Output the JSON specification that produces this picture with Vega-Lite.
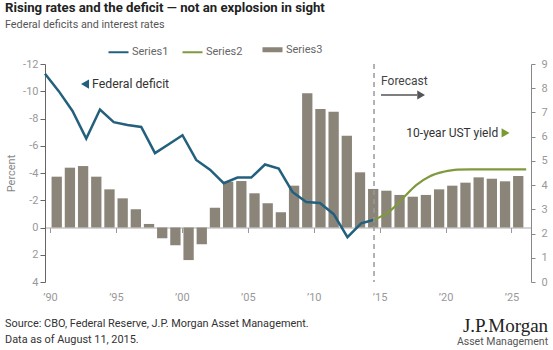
{
  "$schema": "https://vega.github.io/schema/vega-lite/v6.json",
  "width": 486,
  "height": 218,
  "autosize": {"type": "none"},
  "padding": {"left": 45, "top": 64, "right": 22, "bottom": 68},
  "background": "white",
  "config": {
    "view": {"stroke": null},
    "font": "Roboto, sans-serif"
  },
  "title": {
    "text": "Rising rates and the deficit — not an explosion in sight",
    "subtitle": "Federal deficits and interest rates",
    "anchor": "start",
    "frame": "group",
    "dx": -40,
    "offset": 13,
    "fontSize": 13.2,
    "fontWeight": "bold",
    "color": "#222222",
    "subtitleFontSize": 10.8,
    "subtitleColor": "#555555",
    "subtitlePadding": 4
  },
  "datasets": {
    "deficit": [
      {"year": 1990, "value": -3.73}, {"year": 1991, "value": -4.39}, {"year": 1992, "value": -4.51},
      {"year": 1993, "value": -3.73}, {"year": 1994, "value": -2.8}, {"year": 1995, "value": -2.14},
      {"year": 1996, "value": -1.34}, {"year": 1997, "value": -0.26}, {"year": 1998, "value": 0.79},
      {"year": 1999, "value": 1.31}, {"year": 2000, "value": 2.39}, {"year": 2001, "value": 1.23},
      {"year": 2002, "value": -1.45}, {"year": 2003, "value": -3.36}, {"year": 2004, "value": -3.41},
      {"year": 2005, "value": -2.51}, {"year": 2006, "value": -1.78}, {"year": 2007, "value": -1.12},
      {"year": 2008, "value": -3.07}, {"year": 2009, "value": -9.85}, {"year": 2010, "value": -8.7},
      {"year": 2011, "value": -8.5}, {"year": 2012, "value": -6.74}, {"year": 2013, "value": -4.05},
      {"year": 2014, "value": -2.83}, {"year": 2015, "value": -2.7}, {"year": 2016, "value": -2.39},
      {"year": 2017, "value": -2.26}, {"year": 2018, "value": -2.39}, {"year": 2019, "value": -2.8},
      {"year": 2020, "value": -3.07}, {"year": 2021, "value": -3.29}, {"year": 2022, "value": -3.68},
      {"year": 2023, "value": -3.58}, {"year": 2024, "value": -3.39}, {"year": 2025, "value": -3.78}
    ],
    "yield": [
      {"year": 1990, "value": 8.6, "series": "Series1"}, {"year": 1991, "value": 7.88, "series": "Series1"},
      {"year": 1992, "value": 7.06, "series": "Series1"}, {"year": 1993, "value": 5.92, "series": "Series1"},
      {"year": 1994, "value": 7.12, "series": "Series1"}, {"year": 1995, "value": 6.6, "series": "Series1"},
      {"year": 1996, "value": 6.48, "series": "Series1"}, {"year": 1997, "value": 6.4, "series": "Series1"},
      {"year": 1998, "value": 5.32, "series": "Series1"}, {"year": 1999, "value": 5.69, "series": "Series1"},
      {"year": 2000, "value": 6.06, "series": "Series1"}, {"year": 2001, "value": 5.04, "series": "Series1"},
      {"year": 2002, "value": 4.64, "series": "Series1"}, {"year": 2003, "value": 4.08, "series": "Series1"},
      {"year": 2004, "value": 4.31, "series": "Series1"}, {"year": 2005, "value": 4.31, "series": "Series1"},
      {"year": 2006, "value": 4.85, "series": "Series1"}, {"year": 2007, "value": 4.68, "series": "Series1"},
      {"year": 2008, "value": 3.72, "series": "Series1"}, {"year": 2009, "value": 3.3, "series": "Series1"},
      {"year": 2010, "value": 3.26, "series": "Series1"}, {"year": 2011, "value": 2.8, "series": "Series1"},
      {"year": 2012, "value": 1.85, "series": "Series1"}, {"year": 2013, "value": 2.42, "series": "Series1"},
      {"year": 2014, "value": 2.58, "series": "Series1"},
      {"year": 2014, "value": 2.58, "series": "Series2"}, {"year": 2015, "value": 2.89, "series": "Series2"},
      {"year": 2016, "value": 3.44, "series": "Series2"}, {"year": 2017, "value": 4.0, "series": "Series2"},
      {"year": 2018, "value": 4.37, "series": "Series2"}, {"year": 2019, "value": 4.55, "series": "Series2"},
      {"year": 2020, "value": 4.64, "series": "Series2"}, {"year": 2021, "value": 4.65, "series": "Series2"},
      {"year": 2022, "value": 4.65, "series": "Series2"}, {"year": 2023, "value": 4.65, "series": "Series2"},
      {"year": 2024, "value": 4.65, "series": "Series2"}, {"year": 2025, "value": 4.65, "series": "Series2"}
    ],
    "one": [{}]
  },
  "layer": [
    {
      "data": {"name": "deficit"},
      "mark": {"type": "bar", "width": 10.3, "xOffset": 6.73, "color": "#8b8478"},
      "encoding": {
        "x": {
          "field": "year", "type": "quantitative", "title": null,
          "scale": {"domain": [1990, 2026.1], "nice": false, "zero": false},
          "axis": {
            "values": [1990, 1995, 2000, 2005, 2010, 2015, 2020, 2025],
            "labelExpr": "'’' + substring(toString(datum.value), 2)",
            "offset": -54.5, "grid": false, "labelOverlap": false,
            "domainColor": "#aaaaaa", "tickColor": "#999999", "tickSize": 5,
            "labelPadding": 59, "labelColor": "#999999", "labelFontSize": 11,
            "labelFlush": false
          }
        },
        "y": {
          "field": "value", "type": "quantitative", "title": "Percent",
          "scale": {"domain": [-12, 4], "reverse": true, "nice": false, "zero": false},
          "axis": {
            "values": [-12, -10, -8, -6, -4, -2, 0, 2, 4],
            "labelExpr": "toString(datum.value)", "labelOverlap": false,
            "grid": false, "domainColor": "#666666", "tickColor": "#666666", "tickSize": 5,
            "labelPadding": 2, "labelColor": "#999999", "labelFontSize": 11,
            "titleColor": "#888888", "titleFontSize": 11, "titleFontWeight": "normal", "titlePadding": 6
          }
        },
        "color": {"datum": "Series3", "type": "nominal"}
      }
    },
    {
      "data": {"name": "yield"},
      "encoding": {
        "x": {
          "field": "year", "type": "quantitative",
          "scale": {"domain": [1990, 2025.35], "nice": false, "zero": false},
          "axis": null
        },
        "y": {
          "field": "value", "type": "quantitative", "title": null,
          "scale": {"domain": [0, 9], "nice": false, "zero": false},
          "axis": {
            "orient": "right", "values": [0, 1, 2, 3, 4, 5, 6, 7, 8, 9], "grid": false, "labelOverlap": false,
            "domainColor": "#888888", "tickColor": "#888888", "tickSize": 4,
            "labelPadding": 6, "labelColor": "#999999", "labelFontSize": 11
          }
        },
        "color": {
          "field": "series", "type": "nominal",
          "scale": {"domain": ["Series1", "Series2", "Series3"], "range": ["#23607d", "#7f9a3c", "#8b8478"]},
          "legend": {
            "orient": "none", "legendX": 68, "legendY": -20, "direction": "horizontal", "title": null,
            "symbolType": "stroke", "symbolSize": 400, "symbolStrokeWidth": 2,
            "labelFontSize": 11, "labelColor": "#666666", "labelOffset": 8, "columnPadding": 9, "padding": 0,
            "encode": {
              "symbols": {
                "update": {
                  "shape": {"value": "stroke"},
                  "size": {"value": 400},
                  "fill": {"value": "transparent"},
                  "strokeWidth": {"signal": "datum.value === 'Series3' ? 5 : 2"},
                  "stroke": {"scale": "color", "field": "value"}
                }
              }
            }
          }
        }
      },
      "layer": [
        {
          "transform": [{"filter": "datum.series === 'Series1'"}],
          "mark": {"type": "line", "strokeWidth": 2.5}
        },
        {
          "transform": [{"filter": "datum.series === 'Series2'"}],
          "mark": {"type": "line", "strokeWidth": 2.2, "interpolate": "monotone"}
        }
      ]
    },
    {
      "data": {"name": "one"},
      "layer": [
        {
          "mark": {"type": "rule", "strokeDash": [5, 4], "color": "#9a9a9a", "strokeWidth": 1.5},
          "encoding": {
            "x": {"datum": 2014.44, "type": "quantitative", "scale": {"domain": [1990, 2026.1], "nice": false, "zero": false}, "axis": null}
          }
        },
        {
          "mark": {"type": "point", "shape": "triangle-left", "filled": true, "size": 85, "color": "#23607d", "opacity": 1},
          "encoding": {
            "x": {"datum": 1992.97, "type": "quantitative", "scale": {"domain": [1990, 2026.1], "nice": false, "zero": false}, "axis": null},
            "y": {"datum": -10.53, "type": "quantitative", "scale": {"domain": [-12, 4], "reverse": true, "nice": false, "zero": false}, "axis": null}
          }
        },
        {
          "mark": {"type": "text", "text": "Federal deficit", "align": "left", "baseline": "middle", "fontSize": 12.3, "color": "#333333"},
          "encoding": {
            "x": {"datum": 1993.5, "type": "quantitative", "scale": {"domain": [1990, 2026.1], "nice": false, "zero": false}, "axis": null},
            "y": {"datum": -10.53, "type": "quantitative", "scale": {"domain": [-12, 4], "reverse": true, "nice": false, "zero": false}, "axis": null}
          }
        },
        {
          "mark": {"type": "text", "text": "Forecast", "align": "left", "baseline": "middle", "fontSize": 12, "color": "#444444"},
          "encoding": {
            "x": {"datum": 2014.96, "type": "quantitative", "scale": {"domain": [1990, 2026.1], "nice": false, "zero": false}, "axis": null},
            "y": {"datum": -10.72, "type": "quantitative", "scale": {"domain": [-12, 4], "reverse": true, "nice": false, "zero": false}, "axis": null}
          }
        },
        {
          "mark": {"type": "rule", "color": "#555555", "strokeWidth": 1.5},
          "encoding": {
            "x": {"datum": 2014.96, "type": "quantitative", "scale": {"domain": [1990, 2026.1], "nice": false, "zero": false}, "axis": null},
            "x2": {"datum": 2017.64},
            "y": {"datum": -9.72, "type": "quantitative", "scale": {"domain": [-12, 4], "reverse": true, "nice": false, "zero": false}, "axis": null}
          }
        },
        {
          "mark": {"type": "point", "shape": "triangle-right", "filled": true, "size": 80, "color": "#555555", "opacity": 1},
          "encoding": {
            "x": {"datum": 2017.94, "type": "quantitative", "scale": {"domain": [1990, 2026.1], "nice": false, "zero": false}, "axis": null},
            "y": {"datum": -9.72, "type": "quantitative", "scale": {"domain": [-12, 4], "reverse": true, "nice": false, "zero": false}, "axis": null}
          }
        },
        {
          "mark": {"type": "text", "text": "10-year UST yield", "align": "right", "baseline": "middle", "fontSize": 12, "color": "#333333"},
          "encoding": {
            "x": {"datum": 2023.66, "type": "quantitative", "scale": {"domain": [1990, 2026.1], "nice": false, "zero": false}, "axis": null},
            "y": {"datum": -6.94, "type": "quantitative", "scale": {"domain": [-12, 4], "reverse": true, "nice": false, "zero": false}, "axis": null}
          }
        },
        {
          "mark": {"type": "point", "shape": "triangle-right", "filled": true, "size": 85, "color": "#7a9a34", "opacity": 1},
          "encoding": {
            "x": {"datum": 2024.21, "type": "quantitative", "scale": {"domain": [1990, 2026.1], "nice": false, "zero": false}, "axis": null},
            "y": {"datum": -6.94, "type": "quantitative", "scale": {"domain": [-12, 4], "reverse": true, "nice": false, "zero": false}, "axis": null}
          }
        },
        {
          "mark": {"type": "text", "text": "Source: CBO, Federal Reserve, J.P. Morgan Asset Management.", "align": "left", "baseline": "alphabetic", "fontSize": 10.9, "color": "#333333"},
          "encoding": {
            "x": {"datum": 1987.03, "type": "quantitative", "scale": {"domain": [1990, 2026.1], "nice": false, "zero": false}, "axis": null},
            "y": {"datum": 7.3, "type": "quantitative", "scale": {"domain": [-12, 4], "reverse": true, "nice": false, "zero": false}, "axis": null}
          }
        },
        {
          "mark": {"type": "text", "text": "Data as of August 11, 2015.", "align": "left", "baseline": "alphabetic", "fontSize": 10.9, "color": "#333333"},
          "encoding": {
            "x": {"datum": 1987.03, "type": "quantitative", "scale": {"domain": [1990, 2026.1], "nice": false, "zero": false}, "axis": null},
            "y": {"datum": 8.47, "type": "quantitative", "scale": {"domain": [-12, 4], "reverse": true, "nice": false, "zero": false}, "axis": null}
          }
        },
        {
          "mark": {"type": "text", "text": "J.P.Morgan", "align": "right", "baseline": "alphabetic", "fontSize": 19, "font": "Liberation Serif", "color": "#222222"},
          "encoding": {
            "x": {"datum": 2027.37, "type": "quantitative", "scale": {"domain": [1990, 2026.1], "nice": false, "zero": false}, "axis": null},
            "y": {"datum": 7.67, "type": "quantitative", "scale": {"domain": [-12, 4], "reverse": true, "nice": false, "zero": false}, "axis": null}
          }
        },
        {
          "mark": {"type": "text", "text": "Asset Management", "align": "right", "baseline": "alphabetic", "fontSize": 10.5, "color": "#555555"},
          "encoding": {
            "x": {"datum": 2027.37, "type": "quantitative", "scale": {"domain": [1990, 2026.1], "nice": false, "zero": false}, "axis": null},
            "y": {"datum": 8.63, "type": "quantitative", "scale": {"domain": [-12, 4], "reverse": true, "nice": false, "zero": false}, "axis": null}
          }
        }
      ]
    }
  ],
  "resolve": {"scale": {"x": "independent", "y": "independent"}}
}
